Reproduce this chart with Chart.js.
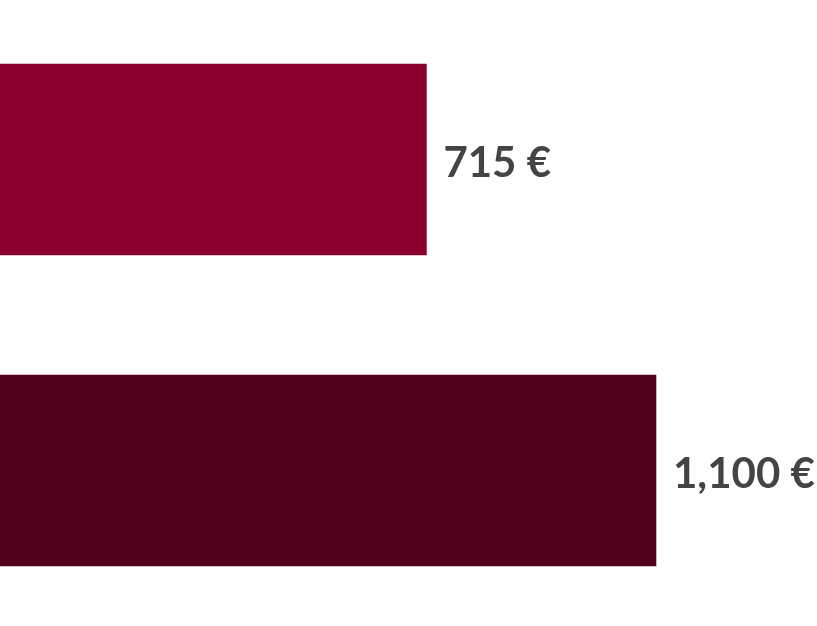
<!DOCTYPE html>
<html>
<head>
<meta charset="utf-8">
<script src="https://cdn.jsdelivr.net/npm/chart.js@4/dist/chart.umd.min.js"></script>
<style>
  html, body { margin: 0; padding: 0; background: #ffffff; }
  #wrap { width: 817px; height: 626px; position: relative; }
</style>
</head>
<body>
<div id="wrap"><canvas id="costChart"></canvas></div>
<script>
// Chart data
const categories = ['A', 'B'];
const values = [715, 1100];
const barColors = ['#8c0031', '#52001c'];
const valueLabels = ['715 €', '1,100 €'];

// Draw the value labels to the right of each bar
const endLabels = {
  id: 'endLabels',
  afterDatasetsDraw(chart) {
    const ctx = chart.ctx;
    const meta = chart.getDatasetMeta(0);
    ctx.save();
    ctx.font = 'bold 42px Lato, sans-serif';
    ctx.fillStyle = '#444444';
    ctx.textAlign = 'left';
    ctx.textBaseline = 'alphabetic';
    meta.data.forEach((bar, i) => {
      ctx.fillText(valueLabels[i], bar.x + 17, bar.y + 17);
    });
    ctx.restore();
  }
};

new Chart(document.getElementById('costChart'), {
  type: 'bar',
  data: {
    labels: categories,
    datasets: [{
      data: values,
      backgroundColor: barColors,
      borderWidth: 0,
      barThickness: 191
    }]
  },
  options: {
    indexAxis: 'y',
    responsive: true,
    maintainAspectRatio: false,
    animation: false,
    layout: { padding: { top: 4, bottom: 0, left: 0, right: 0 } },
    plugins: {
      legend: { display: false },
      tooltip: { enabled: false }
    },
    scales: {
      x: { display: false, min: 0, max: 1370 },
      y: { display: false }
    }
  },
  plugins: [endLabels]
});
</script>
</body>
</html>
